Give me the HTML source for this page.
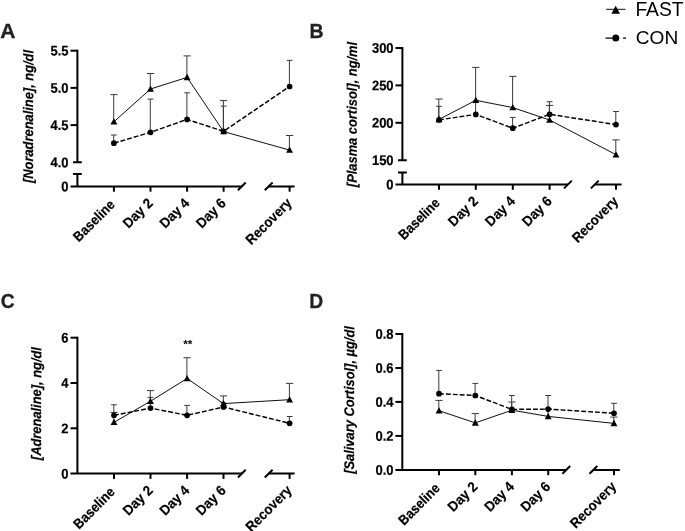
<!DOCTYPE html>
<html lang="en"><head><meta charset="utf-8"><title>Figure</title>
<style>html,body{margin:0;padding:0;background:#fff}svg{display:block}</style></head><body>
<svg width="685" height="531" viewBox="0 0 685 531" font-family='"Liberation Sans", Arial, sans-serif' fill="#000">
<rect width="685" height="531" fill="#fff"/>
<g id="panel-A">
<path d="M77.4,49.7 V162.3" stroke="#000" stroke-width="2.0" fill="none"/>
<path d="M77.4,174.0 V186.4" stroke="#000" stroke-width="2.0" fill="none"/>
<path d="M73.0,162.3 H81.80000000000001 M73.0,174.0 H81.80000000000001" stroke="#000" stroke-width="2.0" fill="none"/>
<path d="M70.5,50.7 H77.4" stroke="#000" stroke-width="2.0" fill="none"/>
<text transform="translate(68.60,55.55) rotate(0.1) scale(0.928,1)" text-anchor="end" font-size="14" font-weight="bold" stroke="#000" stroke-width="0.2">5.5</text>
<path d="M70.5,87.9 H77.4" stroke="#000" stroke-width="2.0" fill="none"/>
<text transform="translate(68.60,92.75) rotate(0.1) scale(0.928,1)" text-anchor="end" font-size="14" font-weight="bold" stroke="#000" stroke-width="0.2">5.0</text>
<path d="M70.5,125.1 H77.4" stroke="#000" stroke-width="2.0" fill="none"/>
<text transform="translate(68.60,129.95) rotate(0.1) scale(0.928,1)" text-anchor="end" font-size="14" font-weight="bold" stroke="#000" stroke-width="0.2">4.5</text>
<text transform="translate(68.60,167.15) rotate(0.1) scale(0.928,1)" text-anchor="end" font-size="14" font-weight="bold" stroke="#000" stroke-width="0.2">4.0</text>
<text transform="translate(68.60,191.25) rotate(0.1) scale(0.928,1)" text-anchor="end" font-size="14" font-weight="bold" stroke="#000" stroke-width="0.2">0</text>
<path d="M70.5,186.4 H241.8 M268.70000000000005,186.4 H294.6" stroke="#000" stroke-width="2.0" fill="none"/>
<path d="M237.9,190.3 L245.70000000000002,182.5 M264.80000000000007,190.3 L272.6,182.5" stroke="#000" stroke-width="2.0" fill="none"/>
<path d="M113.9,186.4 V191.70000000000002" stroke="#000" stroke-width="2.0" fill="none"/>
<text transform="translate(115.70,205.60) rotate(-45) scale(0.905,1)" text-anchor="end" font-size="14" font-weight="bold" stroke="#000" stroke-width="0.2">Baseline</text>
<path d="M150.5,186.4 V191.70000000000002" stroke="#000" stroke-width="2.0" fill="none"/>
<text transform="translate(153.60,204.00) rotate(-45) scale(0.949,1)" text-anchor="end" font-size="14" font-weight="bold" stroke="#000" stroke-width="0.2">Day 2</text>
<path d="M187.1,186.4 V191.70000000000002" stroke="#000" stroke-width="2.0" fill="none"/>
<text transform="translate(190.20,204.00) rotate(-45) scale(0.949,1)" text-anchor="end" font-size="14" font-weight="bold" stroke="#000" stroke-width="0.2">Day 4</text>
<path d="M223.6,186.4 V191.70000000000002" stroke="#000" stroke-width="2.0" fill="none"/>
<text transform="translate(226.70,204.00) rotate(-45) scale(0.949,1)" text-anchor="end" font-size="14" font-weight="bold" stroke="#000" stroke-width="0.2">Day 6</text>
<path d="M289.6,186.4 V191.70000000000002" stroke="#000" stroke-width="2.0" fill="none"/>
<text transform="translate(292.70,204.00) rotate(-45) scale(0.929,1)" text-anchor="end" font-size="14" font-weight="bold" stroke="#000" stroke-width="0.2">Recovery</text>
<text transform="translate(33.1,116.5) rotate(-89.9) scale(0.928,1)" text-anchor="middle" font-size="13.9" font-weight="bold" font-style="italic" stroke="#000" stroke-width="0.2">[Noradrenaline], ng/dl</text>
<text transform="translate(0.2,38.2) scale(1.0,1)" font-size="21" font-weight="bold" fill="#222" stroke="#222" stroke-width="0.3">A</text>
<path d="M113.70,121.8 V94.6 M110.30,94.6 H117.50" stroke="#3a3a3a" stroke-width="1.0" fill="none"/>
<path d="M150.30,89.0 V73.5 M146.90,73.5 H154.10" stroke="#3a3a3a" stroke-width="1.0" fill="none"/>
<path d="M186.90,77.4 V55.9 M183.50,55.9 H190.70" stroke="#3a3a3a" stroke-width="1.0" fill="none"/>
<path d="M223.40,131.6 V100.6 M220.00,100.6 H227.20" stroke="#3a3a3a" stroke-width="1.0" fill="none"/>
<path d="M289.40,150.1 V135.5 M286.00,135.5 H293.20" stroke="#3a3a3a" stroke-width="1.0" fill="none"/>
<path d="M113.70,143.2 V135.0 M111.00,135.0 H116.80" stroke="#3a3a3a" stroke-width="1.0" fill="none"/>
<path d="M150.30,132.3 V99.1 M147.60,99.1 H153.40" stroke="#3a3a3a" stroke-width="1.0" fill="none"/>
<path d="M186.90,119.4 V92.8 M184.20,92.8 H190.00" stroke="#3a3a3a" stroke-width="1.0" fill="none"/>
<path d="M223.40,131.3 V106.1 M220.70,106.1 H226.50" stroke="#3a3a3a" stroke-width="1.0" fill="none"/>
<path d="M289.40,86.5 V60.4 M286.70,60.4 H292.50" stroke="#3a3a3a" stroke-width="1.0" fill="none"/>
<polyline points="113.9,121.8 150.5,89.0 187.1,77.4 223.6,131.6 289.6,150.1" stroke="#000" stroke-width="0.95" fill="none"/>
<polyline points="113.9,143.2 150.5,132.3 187.1,119.4 223.6,131.3 289.6,86.5" stroke="#000" stroke-width="1.45" stroke-dasharray="4.9 2.0" fill="none"/>
<polygon points="113.90,118.25 117.35,124.55 110.45,124.55" fill="#000"/>
<polygon points="150.50,85.45 153.95,91.75 147.05,91.75" fill="#000"/>
<polygon points="187.10,73.85 190.55,80.15 183.65,80.15" fill="#000"/>
<polygon points="223.60,128.05 227.05,134.35 220.15,134.35" fill="#000"/>
<polygon points="289.60,146.55 293.05,152.85 286.15,152.85" fill="#000"/>
<circle cx="113.9" cy="143.2" r="2.85" fill="#000"/>
<circle cx="150.5" cy="132.3" r="2.85" fill="#000"/>
<circle cx="187.1" cy="119.4" r="2.85" fill="#000"/>
<circle cx="223.6" cy="131.3" r="2.85" fill="#000"/>
<circle cx="289.6" cy="86.5" r="2.85" fill="#000"/>
</g>
<g id="panel-B">
<path d="M402.4,47.0 V160.2" stroke="#000" stroke-width="2.0" fill="none"/>
<path d="M402.4,172.5 V184.5" stroke="#000" stroke-width="2.0" fill="none"/>
<path d="M398.0,160.2 H406.79999999999995 M398.0,172.5 H406.79999999999995" stroke="#000" stroke-width="2.0" fill="none"/>
<path d="M395.5,48.0 H402.4" stroke="#000" stroke-width="2.0" fill="none"/>
<text transform="translate(393.60,52.85) rotate(0.1) scale(0.928,1)" text-anchor="end" font-size="14" font-weight="bold" stroke="#000" stroke-width="0.2">300</text>
<path d="M395.5,85.4 H402.4" stroke="#000" stroke-width="2.0" fill="none"/>
<text transform="translate(393.60,90.25) rotate(0.1) scale(0.928,1)" text-anchor="end" font-size="14" font-weight="bold" stroke="#000" stroke-width="0.2">250</text>
<path d="M395.5,122.8 H402.4" stroke="#000" stroke-width="2.0" fill="none"/>
<text transform="translate(393.60,127.65) rotate(0.1) scale(0.928,1)" text-anchor="end" font-size="14" font-weight="bold" stroke="#000" stroke-width="0.2">200</text>
<text transform="translate(393.60,165.05) rotate(0.1) scale(0.928,1)" text-anchor="end" font-size="14" font-weight="bold" stroke="#000" stroke-width="0.2">150</text>
<text transform="translate(393.60,189.35) rotate(0.1) scale(0.928,1)" text-anchor="end" font-size="14" font-weight="bold" stroke="#000" stroke-width="0.2">0</text>
<path d="M395.5,184.5 H567.9 M594.8,184.5 H621.5999999999999" stroke="#000" stroke-width="2.0" fill="none"/>
<path d="M564.0,188.4 L571.8,180.6 M590.9,188.4 L598.6999999999999,180.6" stroke="#000" stroke-width="2.0" fill="none"/>
<path d="M439.0,184.5 V189.8" stroke="#000" stroke-width="2.0" fill="none"/>
<text transform="translate(440.80,203.70) rotate(-45) scale(0.905,1)" text-anchor="end" font-size="14" font-weight="bold" stroke="#000" stroke-width="0.2">Baseline</text>
<path d="M475.8,184.5 V189.8" stroke="#000" stroke-width="2.0" fill="none"/>
<text transform="translate(478.90,202.10) rotate(-45) scale(0.949,1)" text-anchor="end" font-size="14" font-weight="bold" stroke="#000" stroke-width="0.2">Day 2</text>
<path d="M512.8,184.5 V189.8" stroke="#000" stroke-width="2.0" fill="none"/>
<text transform="translate(515.90,202.10) rotate(-45) scale(0.949,1)" text-anchor="end" font-size="14" font-weight="bold" stroke="#000" stroke-width="0.2">Day 4</text>
<path d="M549.6,184.5 V189.8" stroke="#000" stroke-width="2.0" fill="none"/>
<text transform="translate(552.70,202.10) rotate(-45) scale(0.949,1)" text-anchor="end" font-size="14" font-weight="bold" stroke="#000" stroke-width="0.2">Day 6</text>
<path d="M616.0,184.5 V189.8" stroke="#000" stroke-width="2.0" fill="none"/>
<text transform="translate(619.10,202.10) rotate(-45) scale(0.929,1)" text-anchor="end" font-size="14" font-weight="bold" stroke="#000" stroke-width="0.2">Recovery</text>
<text transform="translate(356.8,114.5) rotate(-89.9) scale(0.928,1)" text-anchor="middle" font-size="13.9" font-weight="bold" font-style="italic" stroke="#000" stroke-width="0.2">[Plasma cortisol], ng/ml</text>
<text transform="translate(309.4,38.0) scale(0.93,1)" font-size="21" font-weight="bold" fill="#222" stroke="#222" stroke-width="0.3">B</text>
<path d="M438.80,119.4 V99.0 M435.40,99.0 H442.60" stroke="#3a3a3a" stroke-width="1.0" fill="none"/>
<path d="M475.60,100.3 V67.4 M472.20,67.4 H479.40" stroke="#3a3a3a" stroke-width="1.0" fill="none"/>
<path d="M512.60,107.6 V76.4 M509.20,76.4 H516.40" stroke="#3a3a3a" stroke-width="1.0" fill="none"/>
<path d="M549.40,120.0 V105.4 M546.00,105.4 H553.20" stroke="#3a3a3a" stroke-width="1.0" fill="none"/>
<path d="M615.80,154.7 V139.9 M612.40,139.9 H619.60" stroke="#3a3a3a" stroke-width="1.0" fill="none"/>
<path d="M438.80,119.9 V106.3 M436.10,106.3 H441.90" stroke="#3a3a3a" stroke-width="1.0" fill="none"/>
<path d="M475.60,114.4 V101.0 M472.90,101.0 H478.70" stroke="#3a3a3a" stroke-width="1.0" fill="none"/>
<path d="M512.60,128.2 V117.4 M509.90,117.4 H515.70" stroke="#3a3a3a" stroke-width="1.0" fill="none"/>
<path d="M549.40,114.3 V101.7 M546.70,101.7 H552.50" stroke="#3a3a3a" stroke-width="1.0" fill="none"/>
<path d="M615.80,124.6 V111.5 M613.10,111.5 H618.90" stroke="#3a3a3a" stroke-width="1.0" fill="none"/>
<polyline points="439.0,119.4 475.8,100.3 512.8,107.6 549.6,120.0 616.0,154.7" stroke="#000" stroke-width="0.95" fill="none"/>
<polyline points="439.0,119.9 475.8,114.4 512.8,128.2 549.6,114.3 616.0,124.6" stroke="#000" stroke-width="1.45" stroke-dasharray="4.9 2.0" fill="none"/>
<polygon points="439.00,115.85 442.45,122.15 435.55,122.15" fill="#000"/>
<polygon points="475.80,96.75 479.25,103.05 472.35,103.05" fill="#000"/>
<polygon points="512.80,104.05 516.25,110.35 509.35,110.35" fill="#000"/>
<polygon points="549.60,116.45 553.05,122.75 546.15,122.75" fill="#000"/>
<polygon points="616.00,151.15 619.45,157.45 612.55,157.45" fill="#000"/>
<circle cx="439.0" cy="119.9" r="2.85" fill="#000"/>
<circle cx="475.8" cy="114.4" r="2.85" fill="#000"/>
<circle cx="512.8" cy="128.2" r="2.85" fill="#000"/>
<circle cx="549.6" cy="114.3" r="2.85" fill="#000"/>
<circle cx="616.0" cy="124.6" r="2.85" fill="#000"/>
</g>
<g id="panel-C">
<path d="M77.4,336.7 V473.6" stroke="#000" stroke-width="2.0" fill="none"/>
<path d="M70.5,337.7 H77.4" stroke="#000" stroke-width="2.0" fill="none"/>
<text transform="translate(68.60,342.55) rotate(0.1) scale(0.928,1)" text-anchor="end" font-size="14" font-weight="bold" stroke="#000" stroke-width="0.2">6</text>
<path d="M70.5,383.0 H77.4" stroke="#000" stroke-width="2.0" fill="none"/>
<text transform="translate(68.60,387.85) rotate(0.1) scale(0.928,1)" text-anchor="end" font-size="14" font-weight="bold" stroke="#000" stroke-width="0.2">4</text>
<path d="M70.5,428.3 H77.4" stroke="#000" stroke-width="2.0" fill="none"/>
<text transform="translate(68.60,433.15) rotate(0.1) scale(0.928,1)" text-anchor="end" font-size="14" font-weight="bold" stroke="#000" stroke-width="0.2">2</text>
<text transform="translate(68.60,478.45) rotate(0.1) scale(0.928,1)" text-anchor="end" font-size="14" font-weight="bold" stroke="#000" stroke-width="0.2">0</text>
<path d="M70.5,473.6 H241.8 M268.70000000000005,473.6 H294.6" stroke="#000" stroke-width="2.0" fill="none"/>
<path d="M237.9,477.5 L245.70000000000002,469.70000000000005 M264.80000000000007,477.5 L272.6,469.70000000000005" stroke="#000" stroke-width="2.0" fill="none"/>
<path d="M114.0,473.6 V478.90000000000003" stroke="#000" stroke-width="2.0" fill="none"/>
<text transform="translate(115.80,492.80) rotate(-45) scale(0.905,1)" text-anchor="end" font-size="14" font-weight="bold" stroke="#000" stroke-width="0.2">Baseline</text>
<path d="M150.5,473.6 V478.90000000000003" stroke="#000" stroke-width="2.0" fill="none"/>
<text transform="translate(153.60,491.20) rotate(-45) scale(0.949,1)" text-anchor="end" font-size="14" font-weight="bold" stroke="#000" stroke-width="0.2">Day 2</text>
<path d="M187.1,473.6 V478.90000000000003" stroke="#000" stroke-width="2.0" fill="none"/>
<text transform="translate(190.20,491.20) rotate(-45) scale(0.949,1)" text-anchor="end" font-size="14" font-weight="bold" stroke="#000" stroke-width="0.2">Day 4</text>
<path d="M223.5,473.6 V478.90000000000003" stroke="#000" stroke-width="2.0" fill="none"/>
<text transform="translate(226.60,491.20) rotate(-45) scale(0.949,1)" text-anchor="end" font-size="14" font-weight="bold" stroke="#000" stroke-width="0.2">Day 6</text>
<path d="M289.6,473.6 V478.90000000000003" stroke="#000" stroke-width="2.0" fill="none"/>
<text transform="translate(292.70,491.20) rotate(-45) scale(0.929,1)" text-anchor="end" font-size="14" font-weight="bold" stroke="#000" stroke-width="0.2">Recovery</text>
<text transform="translate(41.1,403.6) rotate(-89.9) scale(0.928,1)" text-anchor="middle" font-size="13.9" font-weight="bold" font-style="italic" stroke="#000" stroke-width="0.2">[Adrenaline], ng/dl</text>
<text transform="translate(0.7,308) scale(0.92,1)" font-size="21" font-weight="bold" fill="#222" stroke="#222" stroke-width="0.3">C</text>
<path d="M113.80,422.3 V412.4 M110.40,412.4 H117.60" stroke="#3a3a3a" stroke-width="1.0" fill="none"/>
<path d="M150.30,401.2 V390.6 M146.90,390.6 H154.10" stroke="#3a3a3a" stroke-width="1.0" fill="none"/>
<path d="M186.90,378.5 V357.7 M183.50,357.7 H190.70" stroke="#3a3a3a" stroke-width="1.0" fill="none"/>
<path d="M223.30,403.6 V395.9 M219.90,395.9 H227.10" stroke="#3a3a3a" stroke-width="1.0" fill="none"/>
<path d="M289.40,399.7 V383.4 M286.00,383.4 H293.20" stroke="#3a3a3a" stroke-width="1.0" fill="none"/>
<path d="M113.80,415.3 V404.8 M111.10,404.8 H116.90" stroke="#3a3a3a" stroke-width="1.0" fill="none"/>
<path d="M150.30,408.1 V397.4 M147.60,397.4 H153.40" stroke="#3a3a3a" stroke-width="1.0" fill="none"/>
<path d="M186.90,415.3 V405.4 M184.20,405.4 H190.00" stroke="#3a3a3a" stroke-width="1.0" fill="none"/>
<path d="M223.30,407.0 V403.0 M220.60,403.0 H226.40" stroke="#3a3a3a" stroke-width="1.0" fill="none"/>
<path d="M289.40,423.3 V416.5 M286.70,416.5 H292.50" stroke="#3a3a3a" stroke-width="1.0" fill="none"/>
<polyline points="114.0,422.3 150.5,401.2 187.1,378.5 223.5,403.6 289.6,399.7" stroke="#000" stroke-width="0.95" fill="none"/>
<polyline points="114.0,415.3 150.5,408.1 187.1,415.3 223.5,407.0 289.6,423.3" stroke="#000" stroke-width="1.45" stroke-dasharray="4.9 2.0" fill="none"/>
<polygon points="114.00,418.75 117.45,425.05 110.55,425.05" fill="#000"/>
<polygon points="150.50,397.65 153.95,403.95 147.05,403.95" fill="#000"/>
<polygon points="187.10,374.95 190.55,381.25 183.65,381.25" fill="#000"/>
<polygon points="223.50,400.05 226.95,406.35 220.05,406.35" fill="#000"/>
<polygon points="289.60,396.15 293.05,402.45 286.15,402.45" fill="#000"/>
<circle cx="114.0" cy="415.3" r="2.85" fill="#000"/>
<circle cx="150.5" cy="408.1" r="2.85" fill="#000"/>
<circle cx="187.1" cy="415.3" r="2.85" fill="#000"/>
<circle cx="223.5" cy="407.0" r="2.85" fill="#000"/>
<circle cx="289.6" cy="423.3" r="2.85" fill="#000"/>
<text x="187.8" y="348.1" text-anchor="middle" font-size="11.8" font-weight="bold">**</text>
</g>
<g id="panel-D">
<path d="M402.3,333.0 V469.9" stroke="#000" stroke-width="2.0" fill="none"/>
<path d="M395.40000000000003,334.0 H402.3" stroke="#000" stroke-width="2.0" fill="none"/>
<text transform="translate(393.50,338.85) rotate(0.1) scale(0.928,1)" text-anchor="end" font-size="14" font-weight="bold" stroke="#000" stroke-width="0.2">0.8</text>
<path d="M395.40000000000003,368.0 H402.3" stroke="#000" stroke-width="2.0" fill="none"/>
<text transform="translate(393.50,372.85) rotate(0.1) scale(0.928,1)" text-anchor="end" font-size="14" font-weight="bold" stroke="#000" stroke-width="0.2">0.6</text>
<path d="M395.40000000000003,401.9 H402.3" stroke="#000" stroke-width="2.0" fill="none"/>
<text transform="translate(393.50,406.75) rotate(0.1) scale(0.928,1)" text-anchor="end" font-size="14" font-weight="bold" stroke="#000" stroke-width="0.2">0.4</text>
<path d="M395.40000000000003,435.9 H402.3" stroke="#000" stroke-width="2.0" fill="none"/>
<text transform="translate(393.50,440.75) rotate(0.1) scale(0.928,1)" text-anchor="end" font-size="14" font-weight="bold" stroke="#000" stroke-width="0.2">0.2</text>
<text transform="translate(393.50,474.75) rotate(0.1) scale(0.928,1)" text-anchor="end" font-size="14" font-weight="bold" stroke="#000" stroke-width="0.2">0.0</text>
<path d="M395.40000000000003,469.9 H566.3 M593.4,469.9 H619.8" stroke="#000" stroke-width="2.0" fill="none"/>
<path d="M562.4,473.79999999999995 L570.1999999999999,466.0 M589.5,473.79999999999995 L597.3,466.0" stroke="#000" stroke-width="2.0" fill="none"/>
<path d="M439.0,469.9 V475.2" stroke="#000" stroke-width="2.0" fill="none"/>
<text transform="translate(440.80,489.10) rotate(-45) scale(0.905,1)" text-anchor="end" font-size="14" font-weight="bold" stroke="#000" stroke-width="0.2">Baseline</text>
<path d="M475.3,469.9 V475.2" stroke="#000" stroke-width="2.0" fill="none"/>
<text transform="translate(478.40,487.50) rotate(-45) scale(0.949,1)" text-anchor="end" font-size="14" font-weight="bold" stroke="#000" stroke-width="0.2">Day 2</text>
<path d="M511.9,469.9 V475.2" stroke="#000" stroke-width="2.0" fill="none"/>
<text transform="translate(515.00,487.50) rotate(-45) scale(0.949,1)" text-anchor="end" font-size="14" font-weight="bold" stroke="#000" stroke-width="0.2">Day 4</text>
<path d="M548.2,469.9 V475.2" stroke="#000" stroke-width="2.0" fill="none"/>
<text transform="translate(551.30,487.50) rotate(-45) scale(0.949,1)" text-anchor="end" font-size="14" font-weight="bold" stroke="#000" stroke-width="0.2">Day 6</text>
<path d="M614.0,469.9 V475.2" stroke="#000" stroke-width="2.0" fill="none"/>
<text transform="translate(617.10,487.50) rotate(-45) scale(0.929,1)" text-anchor="end" font-size="14" font-weight="bold" stroke="#000" stroke-width="0.2">Recovery</text>
<text transform="translate(354.1,400.0) rotate(-89.9) scale(0.928,1)" text-anchor="middle" font-size="13.9" font-weight="bold" font-style="italic" stroke="#000" stroke-width="0.2">[Salivary Cortisol], µg/dl</text>
<text transform="translate(309.3,308) scale(0.92,1)" font-size="21" font-weight="bold" fill="#222" stroke="#222" stroke-width="0.3">D</text>
<path d="M438.80,410.7 V400.4 M435.40,400.4 H442.60" stroke="#3a3a3a" stroke-width="1.0" fill="none"/>
<path d="M475.10,422.9 V413.6 M471.70,413.6 H478.90" stroke="#3a3a3a" stroke-width="1.0" fill="none"/>
<path d="M511.70,410.2 V402.0 M508.30,402.0 H515.50" stroke="#3a3a3a" stroke-width="1.0" fill="none"/>
<path d="M548.00,416.4 V409.0 M544.60,409.0 H551.80" stroke="#3a3a3a" stroke-width="1.0" fill="none"/>
<path d="M613.80,423.4 V417.1 M610.40,417.1 H617.60" stroke="#3a3a3a" stroke-width="1.0" fill="none"/>
<path d="M438.80,393.7 V370.4 M436.10,370.4 H441.90" stroke="#3a3a3a" stroke-width="1.0" fill="none"/>
<path d="M475.10,395.5 V383.4 M472.40,383.4 H478.20" stroke="#3a3a3a" stroke-width="1.0" fill="none"/>
<path d="M511.70,409.4 V395.5 M509.00,395.5 H514.80" stroke="#3a3a3a" stroke-width="1.0" fill="none"/>
<path d="M548.00,409.1 V395.5 M545.30,395.5 H551.10" stroke="#3a3a3a" stroke-width="1.0" fill="none"/>
<path d="M613.80,413.3 V403.3 M611.10,403.3 H616.90" stroke="#3a3a3a" stroke-width="1.0" fill="none"/>
<polyline points="439.0,410.7 475.3,422.9 511.9,410.2 548.2,416.4 614.0,423.4" stroke="#000" stroke-width="0.95" fill="none"/>
<polyline points="439.0,393.7 475.3,395.5 511.9,409.4 548.2,409.1 614.0,413.3" stroke="#000" stroke-width="1.45" stroke-dasharray="4.9 2.0" fill="none"/>
<polygon points="439.00,407.15 442.45,413.45 435.55,413.45" fill="#000"/>
<polygon points="475.30,419.35 478.75,425.65 471.85,425.65" fill="#000"/>
<polygon points="511.90,406.65 515.35,412.95 508.45,412.95" fill="#000"/>
<polygon points="548.20,412.85 551.65,419.15 544.75,419.15" fill="#000"/>
<polygon points="614.00,419.85 617.45,426.15 610.55,426.15" fill="#000"/>
<circle cx="439.0" cy="393.7" r="2.85" fill="#000"/>
<circle cx="475.3" cy="395.5" r="2.85" fill="#000"/>
<circle cx="511.9" cy="409.4" r="2.85" fill="#000"/>
<circle cx="548.2" cy="409.1" r="2.85" fill="#000"/>
<circle cx="614.0" cy="413.3" r="2.85" fill="#000"/>
</g>
<g id="legend">
<path d="M606.2,9.3 H625.5" stroke="#000" stroke-width="0.95"/>
<polygon points="615.70,5.80 620.00,13.80 611.40,13.80" fill="#000"/>
<text x="635.4" y="15.7" font-size="19.3">FAST</text>
<path d="M605.5,38.1 H626" stroke="#000" stroke-width="1.45" stroke-dasharray="13 4.5 3 9"/>
<circle cx="615.8" cy="38.1" r="3.5" fill="#000"/>
<text x="635.8" y="44.4" font-size="19.1">CON</text>
</g>
</svg></body></html>
